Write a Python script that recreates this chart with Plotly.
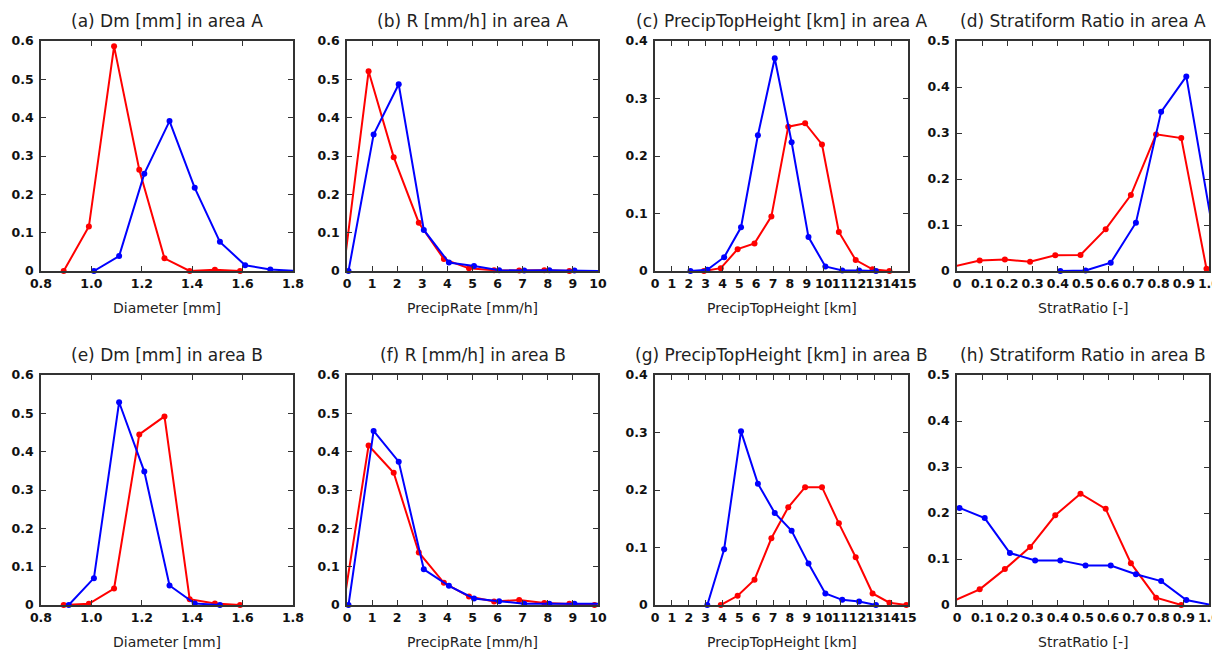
import plotly.graph_objects as go

# ---------------- data ----------------
a_red_x = [0.89, 0.99, 1.09, 1.19, 1.29, 1.39, 1.49, 1.59]
a_red_y = [0.0, 0.116, 0.586, 0.264, 0.033, 0.0, 0.003, 0.0]
a_blue_x = [1.01, 1.11, 1.21, 1.31, 1.41, 1.51, 1.61, 1.71, 1.81]
a_blue_y = [0.0, 0.039, 0.254, 0.391, 0.217, 0.076, 0.015, 0.004, 0.0]

b_red_x = [-0.14, 0.86, 1.86, 2.86, 3.86, 4.86, 5.86, 6.86, 7.86, 8.86]
b_red_y = [0.0, 0.521, 0.297, 0.126, 0.031, 0.007, 0.002, 0.001, 0.002, 0.0]
b_blue_x = [0.06, 1.06, 2.06, 3.06, 4.06, 5.06, 6.06, 7.06, 8.06, 9.06, 10.06]
b_blue_y = [0.0, 0.356, 0.487, 0.107, 0.022, 0.013, 0.002, 0.001, 0.002, 0.001, 0.0]

c_red_x = [2.9, 3.9, 4.9, 5.9, 6.9, 7.9, 8.9, 9.9, 10.9, 11.9, 12.9, 13.9]
c_red_y = [0.0, 0.005, 0.038, 0.048, 0.095, 0.251, 0.257, 0.220, 0.068, 0.019, 0.003, 0.0]
c_blue_x = [2.1, 3.1, 4.1, 5.1, 6.1, 7.1, 8.1, 9.1, 10.1, 11.1, 12.1, 13.1]
c_blue_y = [0.0, 0.002, 0.024, 0.076, 0.236, 0.370, 0.224, 0.059, 0.008, 0.001, 0.001, 0.0]

d_red_x = [-0.01, 0.09, 0.19, 0.29, 0.39, 0.49, 0.59, 0.69, 0.79, 0.89, 0.99]
d_red_y = [0.010, 0.023, 0.025, 0.020, 0.034, 0.035, 0.091, 0.165, 0.297, 0.289, 0.005]
d_blue_x = [0.41, 0.51, 0.61, 0.71, 0.81, 0.91, 1.01]
d_blue_y = [0.0, 0.001, 0.018, 0.105, 0.346, 0.423, 0.105]

e_red_x = [0.89, 0.99, 1.09, 1.19, 1.29, 1.39, 1.49, 1.59]
e_red_y = [0.0, 0.003, 0.043, 0.445, 0.492, 0.015, 0.004, 0.0]
e_blue_x = [0.91, 1.01, 1.11, 1.21, 1.31, 1.41, 1.51]
e_blue_y = [0.0, 0.070, 0.529, 0.348, 0.051, 0.004, 0.0]

f_red_x = [-0.14, 0.86, 1.86, 2.86, 3.86, 4.86, 5.86, 6.86, 7.86, 8.86, 9.86]
f_red_y = [0.0, 0.416, 0.345, 0.137, 0.058, 0.022, 0.009, 0.013, 0.005, 0.003, 0.0]
f_blue_x = [0.06, 1.06, 2.06, 3.06, 4.06, 5.06, 6.06, 7.06, 8.06, 9.06, 10.06]
f_blue_y = [0.0, 0.454, 0.374, 0.093, 0.050, 0.017, 0.010, 0.003, 0.003, 0.003, 0.003]

g_red_x = [3.9, 4.9, 5.9, 6.9, 7.9, 8.9, 9.9, 10.9, 11.9, 12.9, 13.9, 14.9]
g_red_y = [0.0, 0.016, 0.044, 0.116, 0.170, 0.205, 0.205, 0.142, 0.083, 0.020, 0.004, 0.0]
g_blue_x = [3.1, 4.1, 5.1, 6.1, 7.1, 8.1, 9.1, 10.1, 11.1, 12.1, 13.1]
g_blue_y = [0.0, 0.097, 0.302, 0.211, 0.160, 0.129, 0.072, 0.020, 0.009, 0.006, 0.0]

h_red_x = [-0.01, 0.09, 0.19, 0.29, 0.39, 0.49, 0.59, 0.69, 0.79, 0.89]
h_red_y = [0.010, 0.034, 0.078, 0.126, 0.195, 0.242, 0.209, 0.091, 0.016, 0.0]
h_blue_x = [0.01, 0.11, 0.21, 0.31, 0.41, 0.51, 0.61, 0.71, 0.81, 0.91, 1.01]
h_blue_y = [0.211, 0.189, 0.113, 0.097, 0.097, 0.086, 0.086, 0.067, 0.052, 0.011, 0.0]

titles = [
    "(a) Dm [mm] in area A", "(b) R [mm/h] in area A",
    "(c) PrecipTopHeight [km] in area A", "(d) Stratiform Ratio in area A",
    "(e) Dm [mm] in area B", "(f) R [mm/h] in area B",
    "(g) PrecipTopHeight [km] in area B", "(h) Stratiform Ratio in area B",
]
xtitles = ["Diameter [mm]", "PrecipRate [mm/h]", "PrecipTopHeight [km]", "StratRatio [-]"]

dm_ticks = [0.8, 1.0, 1.2, 1.4, 1.6, 1.8]
dm_labels = ["0.8", "1.0", "1.2", "1.4", "1.6", "1.8"]
rate_ticks = list(range(0, 11))
height_ticks = list(range(0, 16))
ratio_ticks = [0, 0.1, 0.2, 0.3, 0.4, 0.5, 0.6, 0.7, 0.8, 0.9, 1.0]
ratio_labels = ["0", "0.1", "0.2", "0.3", "0.4", "0.5", "0.6", "0.7", "0.8", "0.9", "1.0"]

# ---------------- layout geometry ----------------
# the page body has an 8px margin, so the figure is drawn 8px smaller and
# all page-pixel positions are shifted by that offset
OFF = 8
W, H = 1220 - OFF, 652 - OFF
col_px = [(41, 293), (347, 598), (655, 908), (957, 1209)]
row_px = [(41, 271), (375, 605)]

RED = "#ff0000"
BLUE = "#0000ff"
FONT = "DejaVu Sans"

panels = [
    (a_red_x, a_red_y, a_blue_x, a_blue_y, [0.8, 1.8], dm_ticks, dm_labels, 0.6),
    (b_red_x, b_red_y, b_blue_x, b_blue_y, [0, 10], rate_ticks, [str(t) for t in rate_ticks], 0.6),
    (c_red_x, c_red_y, c_blue_x, c_blue_y, [0, 15], height_ticks, [str(t) for t in height_ticks], 0.4),
    (d_red_x, d_red_y, d_blue_x, d_blue_y, [0, 1.0], ratio_ticks, ratio_labels, 0.5),
    (e_red_x, e_red_y, e_blue_x, e_blue_y, [0.8, 1.8], dm_ticks, dm_labels, 0.6),
    (f_red_x, f_red_y, f_blue_x, f_blue_y, [0, 10], rate_ticks, [str(t) for t in rate_ticks], 0.6),
    (g_red_x, g_red_y, g_blue_x, g_blue_y, [0, 15], height_ticks, [str(t) for t in height_ticks], 0.4),
    (h_red_x, h_red_y, h_blue_x, h_blue_y, [0, 1.0], ratio_ticks, ratio_labels, 0.5),
]

fig = go.Figure()
annotations = []
layout = {}

for i, (rx, ry, bx, by, xr, xt, xl, ymax) in enumerate(panels):
    r, c = divmod(i, 4)
    n = i + 1
    xa = "x" if n == 1 else f"x{n}"
    ya = "y" if n == 1 else f"y{n}"
    x0, x1 = (v - OFF for v in col_px[c])
    y0, y1 = (v - OFF for v in row_px[r])
    xdom = [x0 / W, x1 / W]
    ydom = [1 - y1 / H, 1 - y0 / H]

    for xs, ys, col in ((rx, ry, RED), (bx, by, BLUE)):
        fig.add_trace(go.Scatter(
            x=xs, y=ys, mode="lines", xaxis=xa, yaxis=ya,
            line=dict(color=col, width=2), showlegend=False, hoverinfo="skip"))
        inside = [(xv, yv) for xv, yv in zip(xs, ys) if xr[0] - 1e-9 <= xv <= xr[1] + 1e-9]
        fig.add_trace(go.Scatter(
            x=[p[0] for p in inside], y=[p[1] for p in inside], mode="markers",
            xaxis=xa, yaxis=ya, cliponaxis=False,
            marker=dict(color=col, size=6, line=dict(width=0)),
            showlegend=False, hoverinfo="skip"))

    yt = [round(k * 0.1, 1) for k in range(int(round(ymax * 10)) + 1)]
    ylab = ["0"] + [f"{v:.1f}" for v in yt[1:]]
    axis_common = dict(
        showline=True, linecolor="#333333", linewidth=1.5, mirror="ticks",
        ticks="inside", ticklen=5, tickwidth=1.2, tickcolor="#333333",
        showgrid=False, zeroline=False, tickangle=0, automargin=False,
        ticklabeloverflow="allow",
        tickfont=dict(family=FONT, size=12.5, color="#111111", weight="bold"),
    )
    layout[f"xaxis{n if n > 1 else ''}"] = dict(
        axis_common, domain=xdom, range=xr, anchor=ya,
        tickmode="array", tickvals=xt, ticktext=xl)
    layout[f"yaxis{n if n > 1 else ''}"] = dict(
        axis_common, domain=ydom, range=[0, ymax], anchor=xa,
        tickmode="array", tickvals=yt, ticktext=ylab, ticklabelstandoff=3)

    cx = (x0 + x1) / 2 / W
    annotations.append(dict(
        text=titles[i], x=cx, y=1 - (y0 - 20) / H, xref="paper", yref="paper",
        xanchor="center", yanchor="middle", showarrow=False,
        font=dict(family=FONT, size=17, color="#222222")))
    annotations.append(dict(
        text=xtitles[c], x=cx, y=1 - (y1 + 37) / H, xref="paper", yref="paper",
        xanchor="center", yanchor="middle", showarrow=False,
        font=dict(family=FONT, size=14, color="#222222")))

fig.update_layout(
    width=W, height=H, margin=dict(l=0, r=0, t=0, b=0, autoexpand=False),
    paper_bgcolor="white", plot_bgcolor="white",
    annotations=annotations, **layout)

fig.write_html("out.html")
